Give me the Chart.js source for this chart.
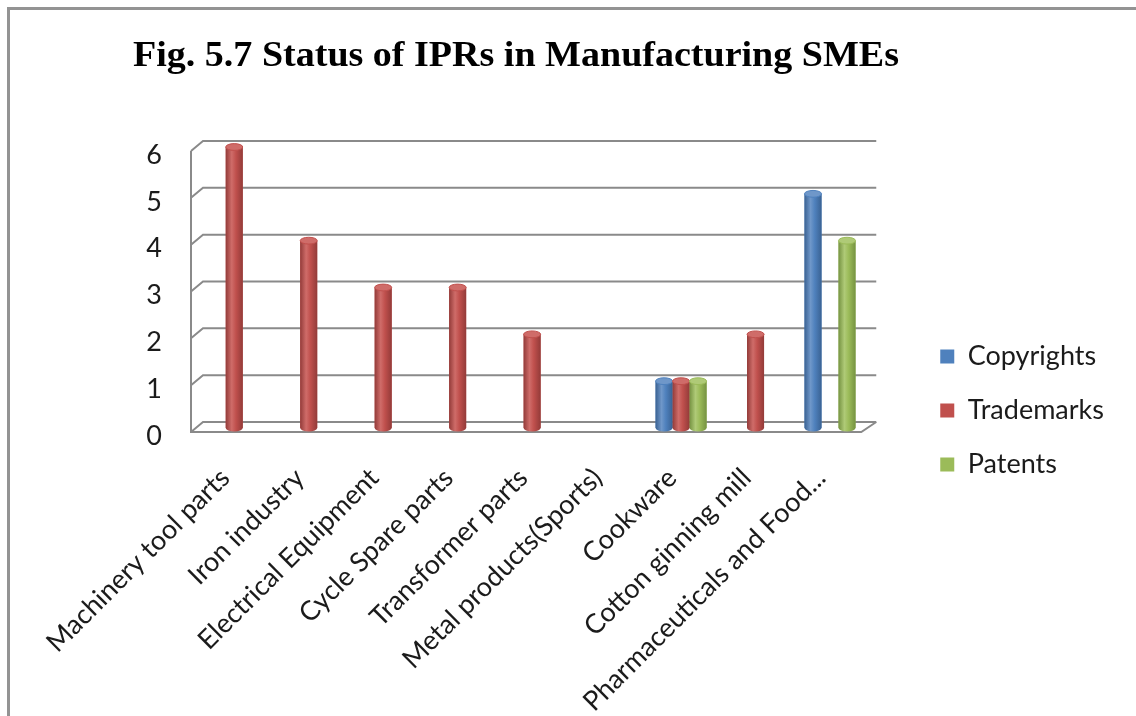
<!DOCTYPE html>
<html>
<head>
<meta charset="utf-8">
<title>Status of IPRs in Manufacturing SMEs</title>
<script src="https://cdn.jsdelivr.net/npm/chart.js@4.4.1/dist/chart.umd.min.js"></script>
<style>
  html, body { margin: 0; padding: 0; background: #fff; }
  #wrap { position: relative; width: 1136px; height: 716px; overflow: hidden; }
  #frame {
    position: absolute; left: 7px; top: 7px; right: 0; bottom: 0;
    border-top: 3px solid #939393; border-left: 3px solid #939393;
    pointer-events: none;
  }
  canvas { position: absolute; left: 0; top: 0; }
</style>
</head>
<body>
<div id="wrap">
  <canvas id="iprChart" width="1136" height="716"></canvas>
  <div id="frame"></div>
</div>
<script>
// ==========================
// Data
// ==========================
const sectors = [
    "Machinery tool parts",
    "Iron industry",
    "Electrical Equipment",
    "Cycle Spare parts",
    "Transformer parts",
    "Metal products(Sports)",
    "Cookware",
    "Cotton ginning mill",
    "Pharmaceuticals and Food..."
];
const copyrights = [0, 0, 0, 0, 0, 0, 1, 0, 5];
const trademarks = [6, 4, 3, 3, 2, 0, 1, 2, 0];
const patents    = [0, 0, 0, 0, 0, 0, 1, 0, 4];
const yMin = 0, yMax = 6, yStep = 1;

const titleText = "Fig. 5.7 Status of IPRs in Manufacturing SMEs";

// base / shadow / highlight shades for each series
const shades = {
    Copyrights: { base: "#4F81BD", dark: "#3a6293", light: "#6f97c9" },
    Trademarks: { base: "#C0504D", dark: "#933b39", light: "#cf6c69" },
    Patents:    { base: "#9BBB59", dark: "#769342", light: "#afca77" }
};

const textColor = "#1b1b1b";
const uiFont = "Lato, 'Open Sans', sans-serif";

// ==========================
// Plugins
// ==========================

// 3D-ish walls: back wall gridlines, left wall diagonals, floor outline
const wallsPlugin = {
    id: "walls",
    beforeDatasetsDraw(chart) {
        const { ctx, chartArea: a, scales: { y } } = chart;
        const y0 = y.getPixelForValue(y.min);
        const yTop = y.getPixelForValue(y.max);
        ctx.save();
        ctx.strokeStyle = "#8a8a8a";
        ctx.lineWidth = 2;
        y.ticks.forEach(t => {
            const py = y.getPixelForValue(t.value);
            ctx.beginPath();
            ctx.moveTo(a.left - 6, py + 4);
            ctx.lineTo(a.left + 6, py - 6);
            ctx.lineTo(a.right + 9, py - 6);
            ctx.stroke();
        });
        // front left edge
        ctx.beginPath();
        ctx.moveTo(a.left - 6, yTop + 4);
        ctx.lineTo(a.left - 6, y0 + 4);
        // front floor edge + right corner
        ctx.lineTo(a.right - 6, y0 + 4);
        ctx.lineTo(a.right + 9, y0 - 6);
        ctx.stroke();
        ctx.restore();
    }
};

// paint the flat bars as little cylinders
const cylinderPlugin = {
    id: "cylinders",
    afterDatasetsDraw(chart) {
        const { ctx } = chart;
        chart.data.datasets.forEach((ds, i) => {
            const meta = chart.getDatasetMeta(i);
            if (meta.hidden) return;
            const c = shades[ds.label];
            meta.data.forEach((el, j) => {
                if (!ds.data[j]) return;
                const { x, y, base, width } = el.getProps(["x", "y", "base", "width"], true);
                const left = x - width / 2, right = x + width / 2;
                const rx = width / 2, ry = width * 0.2;

                const grad = ctx.createLinearGradient(left, 0, right, 0);
                grad.addColorStop(0, c.dark);
                grad.addColorStop(0.35, c.light);
                grad.addColorStop(0.6, c.base);
                grad.addColorStop(1, c.dark);

                ctx.save();
                ctx.beginPath();
                ctx.moveTo(left, y);
                ctx.lineTo(left, base);
                ctx.ellipse(x, base, rx, ry, 0, Math.PI, 0, true);
                ctx.lineTo(right, y);
                ctx.ellipse(x, y, rx, ry, 0, 0, Math.PI, false);
                ctx.closePath();
                ctx.fillStyle = grad;
                ctx.fill();

                // top cap
                ctx.beginPath();
                ctx.ellipse(x, y, rx, ry, 0, 0, Math.PI * 2);
                ctx.fillStyle = c.light;
                ctx.fill();
                ctx.strokeStyle = c.base;
                ctx.lineWidth = 1;
                ctx.stroke();
                ctx.restore();
            });
        });
    }
};

// heading in a tall bold serif
const headingPlugin = {
    id: "heading",
    afterDraw(chart) {
        const { ctx } = chart;
        ctx.save();
        ctx.font = "bold 35px 'Liberation Serif', 'Times New Roman', serif";
        ctx.fillStyle = "#000";
        ctx.textBaseline = "alphabetic";
        const w = ctx.measureText(titleText).width;
        ctx.translate(133, 66);
        ctx.scale(766 / w, 1);
        ctx.fillText(titleText, 0, 0);
        ctx.restore();
    }
};

// ==========================
// Chart
// ==========================
function makeDataset(label, values) {
    return {
        label,
        data: values,
        backgroundColor: shades[label].base,
        borderWidth: 0,
        yAxisID: "y"
    };
}

new Chart(document.getElementById("iprChart"), {
    type: "bar",
    data: {
        labels: sectors,
        datasets: [
            makeDataset("Copyrights", copyrights),
            makeDataset("Trademarks", trademarks),
            makeDataset("Patents", patents)
        ]
    },
    options: {
        responsive: false,
        animation: false,
        layout: { padding: { top: 147, left: 0, right: 22, bottom: 0 } },
        datasets: { bar: { categoryPercentage: 0.685, barPercentage: 1 } },
        scales: {
            x: {
                grid: { display: false, drawTicks: false },
                border: { display: false },
                ticks: {
                    autoSkip: false,
                    minRotation: 45,
                    maxRotation: 45,
                    padding: 34,
                    labelOffset: -9,
                    color: textColor,
                    font: { family: uiFont, size: 27 }
                },
                afterFit: s => { s.height = 288; }
            },
            y: {
                min: yMin,
                max: yMax,
                grid: { display: false, drawTicks: false },
                border: { display: false },
                ticks: {
                    stepSize: yStep,
                    padding: 35,
                    labelOffset: 8,
                    color: textColor,
                    font: { family: uiFont, size: 27 }
                },
                afterFit: s => { s.width = 197; }
            },
            // spacer between plot and legend
            gap: {
                type: "linear",
                position: "right",
                grid: { display: false, drawTicks: false },
                border: { display: false },
                ticks: { display: false },
                afterFit: s => { s.width = 46; }
            }
        },
        plugins: {
            legend: {
                position: "right",
                align: "start",
                maxWidth: 217,
                // empty title only pushes the entries down
                title: {
                    display: true,
                    text: "",
                    font: { size: 12, lineHeight: 1 },
                    padding: { top: 157, bottom: 0 }
                },
                labels: {
                    boxWidth: 14,
                    boxHeight: 14,
                    padding: 27,
                    color: textColor,
                    font: { family: uiFont, size: 27 }
                }
            },
            tooltip: { enabled: false },
            title: { display: false }
        }
    },
    plugins: [wallsPlugin, cylinderPlugin, headingPlugin]
});
</script>
</body>
</html>
